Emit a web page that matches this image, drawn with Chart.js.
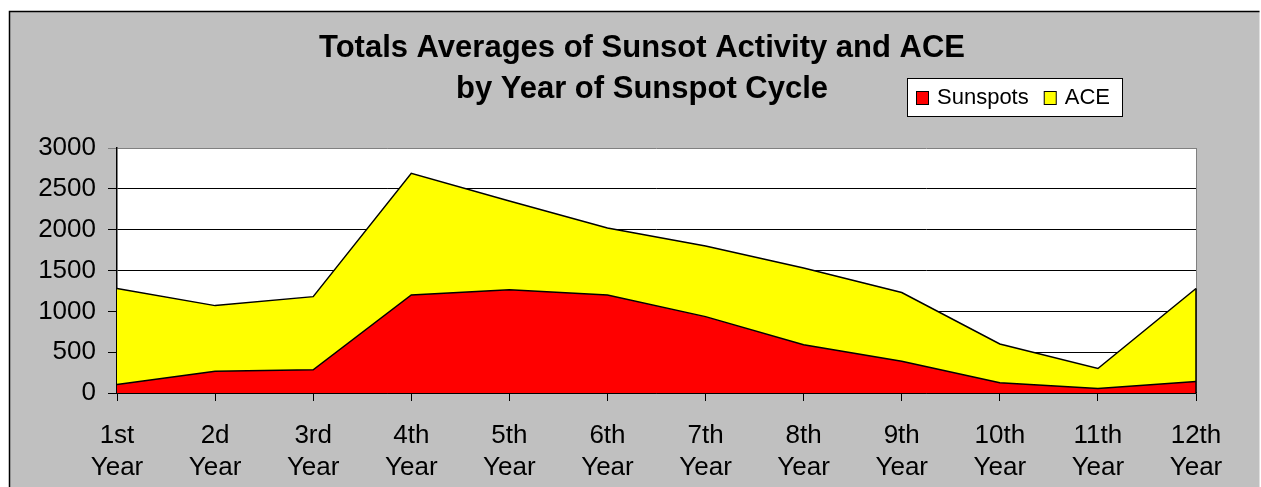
<!DOCTYPE html>
<html>
<head>
<meta charset="utf-8">
<script src="https://cdn.jsdelivr.net/npm/chart.js@4"></script>
<style>
	html, body { margin: 0; padding: 0; background: #fff; overflow: hidden; }
	#chartcanvas { display: block; }
</style>
</head>
<body>
<canvas id="chartcanvas" width="1261" height="487"></canvas>
<script>

// values
var years = [["1st", "Year"], ["2d", "Year"], ["3rd", "Year"], ["4th", "Year"], ["5th", "Year"], ["6th", "Year"],
	["7th", "Year"], ["8th", "Year"], ["9th", "Year"], ["10th", "Year"], ["11th", "Year"], ["12th", "Year"]];
var sunspots = [105, 265, 285, 1200, 1265, 1200, 935, 590, 390, 125, 55, 140];
var ace = [1175, 805, 895, 1490, 1085, 820, 865, 940, 840, 475, 245, 1140];
var yTicks = [0, 500, 1000, 1500, 2000, 2500, 3000];

var titleLines = ["Totals Averages of Sunsot Activity and ACE", "by Year of Sunspot Cycle"];
var fontName = "'Liberation Sans', Arial, sans-serif";

/**
 * gray chart background, outer frame and white plot area
 */
var background = {
	id : "background",
	// title sits a bit right of the plot centre, like the original
	afterLayout : function(chart) {
		if (chart.titleBlock) {
			chart.titleBlock.left = 0;
			chart.titleBlock.right = 1284;
		}
	},
	beforeDraw : function(chart) {
		var c = chart.ctx;
		var a = chart.chartArea;
		c.save();
		c.fillStyle = "#fff";
		c.fillRect(0, 0, chart.width, chart.height);
		c.fillStyle = "#C0C0C0";
		c.fillRect(9.5, 11.5, 1250, chart.height);
		c.strokeStyle = "#000";
		c.lineWidth = 1.5;
		c.beginPath();
		c.moveTo(9.5, chart.height);
		c.lineTo(9.5, 11.5);
		c.lineTo(1259.5, 11.5);
		c.stroke();
		c.fillStyle = "#fff";
		c.fillRect(a.left, a.top, a.right - a.left, a.bottom - a.top);
		c.strokeStyle = "#808080";
		c.lineWidth = 1;
		c.beginPath();
		c.moveTo(a.right + 0.5, a.top);
		c.lineTo(a.right + 0.5, a.bottom);
		c.stroke();
		c.restore();
	},
	// closing edge of the stacked area at the last category
	afterDatasetsDraw : function(chart) {
		var meta = chart.getDatasetMeta(chart.data.datasets.length - 1);
		var last = meta.data[meta.data.length - 1];
		var c = chart.ctx;
		c.save();
		c.strokeStyle = "#000";
		c.lineWidth = 1.5;
		c.beginPath();
		c.moveTo(last.x, last.y);
		c.lineTo(last.x, chart.chartArea.bottom);
		c.stroke();
		c.restore();
	}
};

/**
 * boxed legend next to the second title line
 */
var boxLegend = {
	id : "boxLegend",
	afterDraw : function(chart) {
		var c = chart.ctx;
		var sets = chart.data.datasets;
		var x = 907.5, y = 78.5;
		c.save();
		c.fillStyle = "#fff";
		c.fillRect(x, y, 215, 38);
		c.strokeStyle = "#000";
		c.lineWidth = 1;
		c.strokeRect(x, y, 215, 38);
		c.font = "22px " + fontName;
		c.textBaseline = "middle";
		var px = 916;
		for (var i = 0; i < sets.length; i++) {
			c.fillStyle = sets[i].backgroundColor;
			c.fillRect(px + 0.5, 91.5, 12, 13);
			c.strokeRect(px + 0.5, 91.5, 12, 13);
			c.fillStyle = "#000";
			c.fillText(sets[i].label, px + 21, 98);
			px += 21 + c.measureText(sets[i].label).width + 15;
		}
		c.restore();
	}
};

var data = {
	labels : years,
	datasets : [
		{
			label : "Sunspots",
			data : sunspots,
			backgroundColor : "#FF0000",
			borderColor : "#000",
			borderWidth : 1.5,
			fill : "origin",
			tension : 0,
			pointRadius : 0
		},
		{
			label : "ACE",
			data : ace,
			backgroundColor : "#FFFF00",
			borderColor : "#000",
			borderWidth : 1.5,
			fill : "-1",
			tension : 0,
			pointRadius : 0
		}
	]
};

var options = {
	responsive : false,
	animation : false,
	layout : {
		padding : { left : 0, right : 65, top : 0, bottom : 0 }
	},
	plugins : {
		legend : { display : false },
		tooltip : { enabled : false },
		title : {
			display : true,
			text : titleLines,
			color : "#000",
			font : { family : fontName, size : 31, weight : "bold", lineHeight : "41px" },
			padding : { top : 28, bottom : 38 }
		}
	},
	scales : {
		x : {
			offset : false,
			afterFit : function(scale) { scale.height = 94; },
			grid : {
				drawOnChartArea : false,
				drawTicks : true,
				tickLength : 8,
				color : "#000"
			},
			border : { color : "#000", width : 1.5 },
			ticks : {
				color : "#000",
				padding : 19,
				maxRotation : 0,
				autoSkip : false,
				font : { family : fontName, size : 26, lineHeight : "32px" }
			}
		},
		y : {
			stacked : true,
			min : 0,
			max : 3000,
			afterFit : function(scale) { scale.width = 117; },
			afterBuildTicks : function(scale) {
				scale.ticks = yTicks.map(function(v) { return { value : v }; });
			},
			grid : {
				color : function(ctx) {
					return ctx.tick && ctx.tick.value == 3000 ? "#808080" : "#000";
				},
				tickLength : 9
			},
			border : { color : "#000", width : 1.5 },
			ticks : {
				color : "#000",
				padding : 12,
				font : { family : fontName, size : 26 },
				callback : function(value) { return String(value); }
			}
		}
	}
};

var ctx = document.getElementById("chartcanvas");
var chart = new Chart(ctx, {
	type : "line",
	data : data,
	options : options,
	plugins : [background, boxLegend]
});

</script>
</body>
</html>
